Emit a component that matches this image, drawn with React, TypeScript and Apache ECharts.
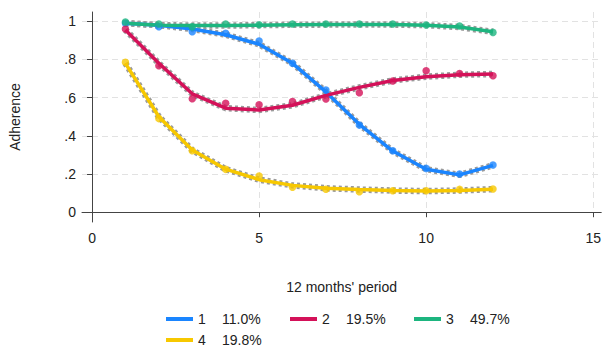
import React, { useEffect, useRef } from "react";
import * as echarts from "echarts";

const months = [1, 2, 3, 4, 5, 6, 7, 8, 9, 10, 11, 12];
const groupNames = ["1", "2", "3", "4"];
const groupShares = ["11.0%", "19.5%", "49.7%", "19.8%"];
const colors = ["#1a85ff", "#d41159", "#1db57f", "#f7c800"];

// observed adherence (dots)
const obs1 = [0.99, 0.972, 0.946, 0.937, 0.897, 0.78, 0.64, 0.456, 0.322, 0.229, 0.2, 0.247];
const obs2 = [0.96, 0.767, 0.594, 0.57, 0.563, 0.58, 0.593, 0.626, 0.687, 0.741, 0.727, 0.715];
const obs3 = [0.997, 0.986, 0.972, 0.986, 0.982, 0.986, 0.986, 0.986, 0.986, 0.981, 0.976, 0.942];
const obs4 = [0.785, 0.49, 0.322, 0.224, 0.189, 0.13, 0.12, 0.107, 0.112, 0.112, 0.119, 0.121];

// fitted trajectories (lines)
const fit1 = [0.99, 0.98, 0.96, 0.93, 0.88, 0.78, 0.63, 0.46, 0.32, 0.225, 0.195, 0.245];
const fit2 = [0.955, 0.78, 0.62, 0.545, 0.535, 0.56, 0.612, 0.654, 0.69, 0.71, 0.72, 0.724];
const fit3 = [0.99, 0.98, 0.978, 0.978, 0.98, 0.982, 0.983, 0.983, 0.983, 0.98, 0.97, 0.945];
const fit4 = [0.78, 0.5, 0.325, 0.225, 0.17, 0.14, 0.125, 0.118, 0.113, 0.11, 0.113, 0.12];

const xTicks = [0, 5, 10, 15];
const yTicks = [0, 0.2, 0.4, 0.6, 0.8, 1];

const observed = [obs1, obs2, obs3, obs4];
const fitted = [fit1, fit2, fit3, fit4];

const FONT = "'Liberation Sans', Arial, sans-serif";

export default function App() {
  const ref = useRef<HTMLDivElement>(null);
  useEffect(() => {
    if (!ref.current) return;
    const chart = echarts.init(ref.current, undefined, { renderer: "svg" });
    const series: any[] = [];
    fitted.forEach((f, i) => {
      series.push({
        type: "line",
        name: "ci" + i,
        data: months.map((m, j) => [m, f[j]]),
        symbol: "none",
        lineStyle: { color: "#9a9a9a", width: 6.5, type: [3, 3] },
        z: 2,
        silent: true,
      });
      series.push({
        type: "line",
        name: groupNames[i],
        data: months.map((m, j) => [m, f[j]]),
        symbol: "none",
        lineStyle: { color: colors[i], width: 3.5 },
        itemStyle: { color: colors[i] },
        z: 3,
      });
      series.push({
        type: "scatter",
        name: "obs" + i,
        data: months.map((m, j) => [m, observed[i][j]]),
        symbolSize: 7.5,
        itemStyle: { color: colors[i] },
        z: 4,
      });
    });
    const legendBase = {
      itemWidth: 27,
      itemHeight: 4,
      itemGap: 10,
      icon: "rect",
      orient: "horizontal",
      padding: 0,
      formatter: (name: string) => {
        const i = groupNames.indexOf(name);
        return "{a|" + name + "}{b|" + groupShares[i] + "}";
      },
      textStyle: {
        color: "#222",
        fontSize: 14,
        fontFamily: FONT,
        lineHeight: 14,
        rich: {
          a: { width: 24, fontSize: 14, lineHeight: 14, fontFamily: FONT, color: "#222" },
          b: { width: 58, fontSize: 14, lineHeight: 14, fontFamily: FONT, color: "#222" },
        },
      },
    };
    chart.setOption({
      animation: false,
      backgroundColor: "#ffffff",
      textStyle: { fontFamily: FONT },
      grid: { left: 82, right: 0, top: 12, bottom: 127 },
      xAxis: {
        type: "value",
        min: -0.3,
        max: 15.24,
        name: "12 months' period",
        nameLocation: "middle",
        nameGap: 58,
        nameTextStyle: { color: "#222", fontSize: 14, fontFamily: FONT },
        axisLine: { show: true, lineStyle: { color: "#444", width: 1 } },
        axisTick: { show: true, customValues: xTicks, length: 5, lineStyle: { color: "#444" } },
        axisLabel: { customValues: xTicks, color: "#222", fontSize: 14, fontFamily: FONT, margin: 9 },
        splitLine: { show: true, lineStyle: { color: "#e2e2e2", type: [6, 4] } },
      },
      yAxis: {
        type: "value",
        min: -0.052,
        max: 1.049,
        name: "Adherence",
        nameLocation: "middle",
        nameRotate: 90,
        nameGap: 60,
        nameTextStyle: { color: "#222", fontSize: 14, fontFamily: FONT },
        axisLine: { show: true, lineStyle: { color: "#444", width: 1 } },
        axisTick: { show: true, customValues: yTicks, length: 5, lineStyle: { color: "#444" } },
        axisLabel: {
          customValues: yTicks,
          color: "#222",
          fontSize: 14,
          fontFamily: FONT,
          margin: 6,
          formatter: (v: number) => {
            const r = Math.round(v * 10) / 10;
            if (r === 0) return "0";
            if (r === 1) return "1";
            return String(r).replace(/^0\./, ".");
          },
        },
        splitLine: { show: true, lineStyle: { color: "#e2e2e2", type: [6, 4] } },
      },
      legend: [
        { ...legendBase, data: groupNames.slice(0, 3), left: 166, top: 312 },
        { ...legendBase, data: groupNames.slice(3), left: 166, top: 333 },
      ],
      series,
    });
    return () => chart.dispose();
  }, []);
  return (
    <div
      ref={ref}
      style={{ position: "absolute", left: 0, top: 0, width: 604, height: 349 }}
    />
  );
}
